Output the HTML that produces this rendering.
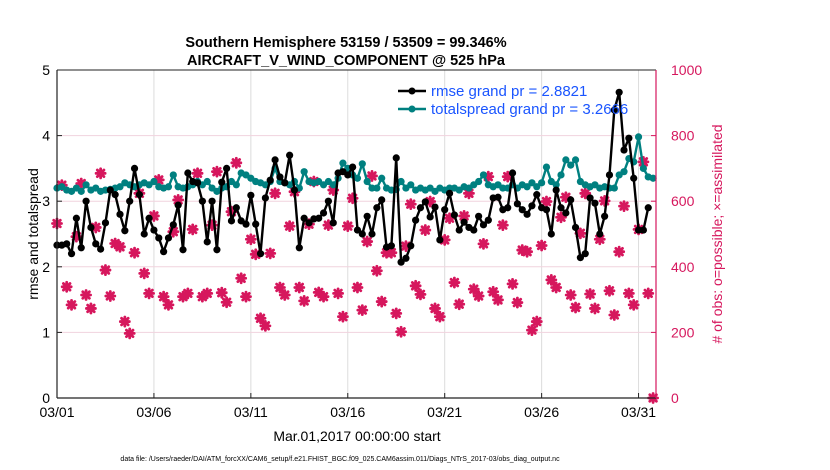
<!DOCTYPE html>
<html><head><meta charset="utf-8"><style>
body{margin:0;background:#fff;}
svg{display:block;font-family:"Liberation Sans",Arial,sans-serif;}
</style></head><body>
<svg id="chart" width="830" height="470" viewBox="0 0 830 470">
<rect width="830" height="470" fill="#fff"/>
<g id="grid"></g>
<g id="obsLayer"></g>
<g id="spreadLayer"></g>
<g id="rmseLayer"></g>
<g id="axes"></g>
<text x="346" y="47" text-anchor="middle" font-size="14.5" font-weight="bold">Southern Hemisphere 53159 / 53509 = 99.346%</text>
<text x="346" y="65" text-anchor="middle" font-size="14.5" font-weight="bold">AIRCRAFT_V_WIND_COMPONENT @ 525 hPa</text>
<text transform="translate(38,234) rotate(-90)" text-anchor="middle" font-size="14">rmse and totalspread</text>
<text transform="translate(722,234) rotate(-90)" text-anchor="middle" font-size="14" fill="#d6175d"># of obs: o=possible; ×=assimilated</text>
<text x="357" y="441" text-anchor="middle" font-size="14">Mar.01,2017 00:00:00 start</text>
<text x="340" y="461" text-anchor="middle" font-size="7">data file: /Users/raeder/DAI/ATM_forcXX/CAM6_setup/f.e21.FHIST_BGC.f09_025.CAM6assim.011/Diags_NTrS_2017-03/obs_diag_output.nc</text>
<g>
<g>
<line x1="398" y1="91" x2="426" y2="91" stroke="#000" stroke-width="2.5"/><circle cx="412" cy="91" r="3.5" fill="#000"/>
<text x="431" y="96" font-size="15" fill="#1a55ff">rmse grand pr = 2.8821</text></g>
<g>
<line x1="398" y1="109" x2="426" y2="109" stroke="#008080" stroke-width="2.5"/><circle cx="412" cy="109" r="3.5" fill="#008080"/>
<text x="431" y="114" font-size="15" fill="#1a55ff">totalspread grand pr = 3.2666</text></g>
</g>
</svg>
<script>
const xTickLabels=["03/01","03/06","03/11","03/16","03/21","03/26","03/31"];
const xTickDays=[0,5,10,15,20,25,30];
const leftTicks=[0,1,2,3,4,5];
const rightTicks=[0,200,400,600,800,1000];
const rmse=[2.33,2.33,2.35,2.2,2.74,2.29,3.0,2.6,2.35,2.27,2.67,3.17,3.1,2.8,2.55,3.0,3.5,3.1,2.5,2.74,2.56,2.44,2.23,2.44,2.64,2.94,2.26,3.43,3.3,3.28,3.0,2.38,
3.0,2.26,3.29,3.5,2.7,2.9,2.7,2.65,3.09,2.65,2.2,3.05,3.32,3.63,3.37,3.28,3.7,3.17,2.29,2.74,2.67,2.73,2.74,2.82,3.0,2.67,3.43,3.45,3.4,3.52,2.56,
2.5,2.77,2.5,2.9,3.02,2.3,2.32,3.66,2.07,2.13,2.32,2.71,2.9,2.99,2.76,2.91,2.41,2.87,3.12,2.79,2.56,2.68,2.6,2.56,2.77,2.64,2.71,3.05,3.06,2.87,
2.9,3.43,2.96,2.87,2.8,2.93,3.1,2.9,2.87,2.5,3.17,2.9,2.82,3.02,2.6,2.14,2.2,3.05,2.97,2.5,2.77,3.4,4.39,4.66,3.78,3.96,3.35,2.56,2.56,2.9];
const totalspread=[3.2,3.22,3.17,3.15,3.2,3.15,3.25,3.17,3.2,3.15,3.17,3.18,3.2,3.22,3.28,3.25,3.22,3.25,3.28,3.25,3.3,3.22,3.2,3.22,3.4,3.22,3.2,3.22,3.25,3.3,3.25,3.3,
3.2,3.15,3.2,3.22,3.3,3.25,3.43,3.4,3.35,3.3,3.28,3.25,3.3,3.5,3.3,3.28,3.25,3.3,3.2,3.45,3.3,3.28,3.3,3.25,3.3,3.25,3.35,3.58,3.5,3.4,3.35,
3.57,3.3,3.2,3.2,3.35,3.2,3.17,3.18,3.3,3.2,3.25,3.17,3.2,3.17,3.2,3.15,3.2,3.17,3.2,3.2,3.17,3.22,3.2,3.25,3.3,3.4,3.25,3.22,3.25,3.2,
3.2,3.25,3.2,3.25,3.22,3.28,3.22,3.28,3.52,3.3,3.25,3.4,3.63,3.55,3.63,3.3,3.25,3.22,3.25,3.2,3.22,3.2,3.2,3.4,3.45,3.65,3.6,3.98,3.5,3.37,3.35];
const obsCount=[532,649,339,284,492,654,314,273,520,685,390,311,471,461,233,197,443,624,380,319,555,665,309,284,507,604,309,319,514,685,309,319,
527,690,321,292,568,717,365,309,484,438,243,220,441,624,337,314,524,629,337,296,530,660,322,309,527,634,319,248,524,609,337,
268,477,677,388,294,443,443,258,202,463,591,342,316,512,599,273,248,482,548,352,286,555,624,332,311,470,675,324,299,527,
675,348,291,451,446,207,233,465,599,360,337,551,612,314,276,502,624,317,273,484,601,327,253,446,585,319,284,514,720,319,0];

const NS="http://www.w3.org/2000/svg";
const X0=57,X1=656,Y0=398,Y1=70,DAYMAX=30.9;
const xs=d=>X0+d*(X1-X0)/DAYMAX;
const yl=v=>Y0-v*(Y0-Y1)/5;
const yr=v=>Y0-v*(Y0-Y1)/1000;
const tOf=i=>i*0.25;
function mk(tag,attrs,parent){const e=document.createElementNS(NS,tag);for(const k in attrs)e.setAttribute(k,attrs[k]);parent.appendChild(e);return e;}
const grid=document.getElementById('grid'),axes=document.getElementById('axes');
xTickDays.forEach((d,i)=>{
 const l=mk('line',{x1:xs(d),x2:xs(d),y1:Y1,y2:Y0,stroke:'#dcdcdc','stroke-width':1},grid);
 
 
 const tk=mk('line',{x1:xs(d),x2:xs(d),y1:Y0,y2:Y0-5,stroke:'#222'},axes);
 
 
 const t=mk('text',{x:xs(d),y:417,'text-anchor':'middle','font-size':14},axes);
 t.textContent=xTickLabels[i];
 
 
});
rightTicks.forEach(v=>{
 if(v>0&&v<1000){const l=mk('line',{x1:X0,x2:X1,y1:yr(v),y2:yr(v),stroke:'#f1d3de','stroke-width':1},grid);
 
 }
 const tk=mk('line',{x1:X1,x2:X1-5,y1:yr(v),y2:yr(v),stroke:'#d6175d'},axes);
 
 
 const t=mk('text',{x:671,y:yr(v)+5,'font-size':14,fill:'#d6175d'},axes);
 t.textContent=v;
 
 
});
leftTicks.forEach(v=>{
 const tk=mk('line',{x1:X0,x2:X0+5,y1:yl(v),y2:yl(v),stroke:'#222'},axes);
 
 
 const t=mk('text',{x:50,y:yl(v)+5,'text-anchor':'end','font-size':14},axes);
 t.textContent=v;
 
 
});
const la=mk('line',{x1:X0,x2:X0,y1:Y1,y2:Y0,stroke:'#222','stroke-width':1.2},axes);


const ba=mk('line',{x1:X0,x2:X1,y1:Y0,y2:Y0,stroke:'#222','stroke-width':1.2},axes);


const ta=mk('line',{x1:X0,x2:X1,y1:Y1,y2:Y1,stroke:'#222','stroke-width':1},axes);


const ra=mk('line',{x1:X1,x2:X1,y1:Y1,y2:Y0,stroke:'#d6175d','stroke-width':1.2},axes);



const obsL=document.getElementById('obsLayer');
obsCount.forEach((v,i)=>{
 const x=xs(tOf(i)),y=yr(v);
 const p=mk('path',{d:`M${x-4.5},${y}H${x+4.5}M${x},${y-4.5}V${y+4.5}M${x-3.3},${y-3.3}L${x+3.3},${y+3.3}M${x-3.3},${y+3.3}L${x+3.3},${y-3.3}`,stroke:'#d6175d','stroke-width':2.8,'stroke-linecap':'round',fill:'none'},obsL);
 
 
});
function drawSeries(arr,layerId,color,name){
 const g=document.getElementById(layerId);
 const pts=arr.map((v,i)=>xs(tOf(i)).toFixed(1)+','+yl(v).toFixed(1)).join(' ');
 const pl=mk('polyline',{points:pts,fill:'none',stroke:color,'stroke-width':2.4,'stroke-linejoin':'round'},g);
 
 
 arr.forEach((v,i)=>{
  const c=mk('circle',{cx:xs(tOf(i)),cy:yl(v),r:3.6,fill:color},g);
  
  
 });
}
drawSeries(totalspread,'spreadLayer','#008080','totalspread');
drawSeries(rmse,'rmseLayer','#000000','rmse');
</script>
</body></html>
